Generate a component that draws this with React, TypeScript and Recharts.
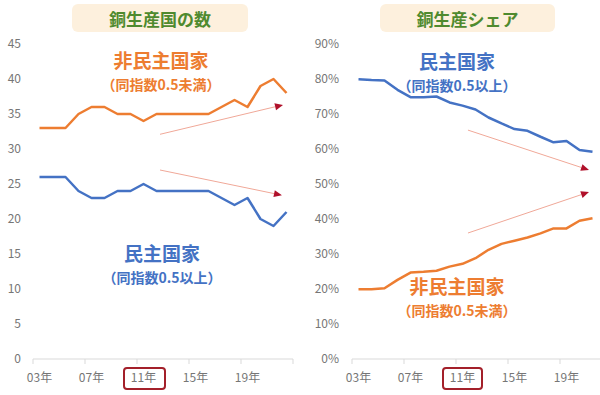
import React from 'react';
import { LineChart, Line, XAxis, YAxis, ReferenceLine } from 'recharts';

// ---------- data ----------
const countYears = [2003, 2004, 2005, 2006, 2007, 2008, 2009, 2010, 2011, 2012, 2013, 2014, 2015, 2016, 2017, 2018, 2019, 2020, 2021, 2022];
const nonDemCount = [33, 33, 33, 35, 36, 36, 35, 35, 34, 35, 35, 35, 35, 35, 36, 37, 36, 39, 40, 38];
const demCount = [26, 26, 26, 24, 23, 23, 24, 24, 25, 24, 24, 24, 24, 24, 23, 22, 23, 20, 19, 21];

const shareYears = [2003, 2004, 2005, 2006, 2007, 2008, 2009, 2010, 2011, 2012, 2013, 2014, 2015, 2016, 2017, 2018, 2019, 2020, 2021];
const demShare = [79.9, 79.7, 79.6, 76.9, 74.8, 74.8, 75.0, 73.3, 72.4, 71.3, 69.0, 67.3, 65.7, 65.2, 63.5, 61.9, 62.3, 59.7, 59.2];
const nonDemShare = [19.9, 19.9, 20.2, 22.6, 24.7, 24.9, 25.2, 26.4, 27.2, 28.8, 31.2, 32.9, 33.8, 34.7, 35.9, 37.3, 37.3, 39.5, 40.2];

const xTickYears = [2003, 2007, 2011, 2015, 2019];
const xTickLabels = ['03年', '07年', '11年', '15年', '19年'];
const countTicks = [0, 5, 10, 15, 20, 25, 30, 35, 40, 45];
const shareTicks = [0, 10, 20, 30, 40, 50, 60, 70, 80, 90];

// trend arrows (data units: [year, value])
const countArrows = [
  { from: [2012.27, 32.1], to: [2021.73, 36.3] },
  { from: [2012.27, 27.0], to: [2021.65, 23.4] },
];
const shareArrows = [
  { from: [2011.42, 65.4], to: [2020.73, 54.0] },
  { from: [2011.42, 36.0], to: [2020.73, 47.7] },
];

const countData = countYears.map((year, i) => ({ year, nonDem: nonDemCount[i], dem: demCount[i] }));
const shareData = shareYears.map((year, i) => ({ year, nonDem: nonDemShare[i], dem: demShare[i] }));
const boundaryTicks = [...xTickYears.map((y) => y - 0.5), 2022.5];

// ---------- styles ----------
const FONT = '"Noto Sans CJK JP", "Noto Sans", sans-serif';
const ORANGE = '#ED7D31';
const BLUE = '#4472C4';
const AXIS_TEXT = '#767676';
const HALF = 6.5;

const XTick = (props: any) => {
  const { x, y, payload } = props;
  const idx = xTickYears.indexOf(payload.value + 0.5);
  if (idx < 0) return <g />;
  return (
    <text x={x + HALF} y={y + 10} textAnchor="middle" dominantBaseline="central" fontSize={12} fill={AXIS_TEXT} fontFamily={FONT}>
      {xTickLabels[idx]}
    </text>
  );
};

const arrowShape = (p: any) => {
  const { x1, y1, x2, y2 } = p;
  const ang = Math.atan2(y2 - y1, x2 - x1);
  const L = 8;
  const W = 3.5;
  const bx = x2 - L * Math.cos(ang);
  const by = y2 - L * Math.sin(ang);
  const px = -Math.sin(ang) * W;
  const py = Math.cos(ang) * W;
  return (
    <g>
      <line x1={x1} y1={y1} x2={bx} y2={by} stroke="#F0A898" strokeWidth={1} />
      <polygon points={`${x2},${y2} ${bx + px},${by + py} ${bx - px},${by - py}`} fill="#B0102A" />
    </g>
  );
};

// two-line annotation: main line centred at y-2, sub line centred at y+22
const Note = ({ x, y, main, sub, color }: { x: number; y: number; main: string; sub: string; color: string }) => (
  <div
    style={{
      position: 'absolute',
      left: x,
      top: y - 12,
      transform: 'translateX(-50%)',
      whiteSpace: 'nowrap',
      fontFamily: FONT,
      fontWeight: 700,
      color,
      textAlign: 'center',
    }}
  >
    <span style={{ display: 'block', fontSize: 19, lineHeight: '20px', height: 20 }}>{main}</span>
    <span style={{ display: 'block', fontSize: 14, lineHeight: '20px', height: 20, marginTop: 4 }}>{sub}</span>
  </div>
);

const TitleBox = ({ left, width, text }: { left: number; width: number; text: string }) => (
  <div
    style={{
      position: 'absolute',
      left,
      top: 4,
      width,
      height: 28,
      background: '#FDF0DD',
      borderRadius: 6,
      display: 'flex',
      alignItems: 'center',
      justifyContent: 'center',
      fontFamily: FONT,
      fontWeight: 700,
      fontSize: 17,
      color: '#4F8A2E',
    }}
  >
    {text}
  </div>
);

const RedBox = ({ left, width }: { left: number; width: number }) => (
  <div
    style={{
      position: 'absolute',
      left,
      top: 367,
      width,
      height: 23,
      border: '2.5px solid #A3202A',
      borderRadius: 4,
      boxSizing: 'border-box',
    }}
  />
);

export default function App() {
  return (
    <div style={{ position: 'fixed', left: 0, top: 0, width: 600, height: 395, overflow: 'hidden', background: '#fff' }}>
      <div style={{ position: 'absolute', left: 0, top: 0 }}>
        <LineChart width={300} height={395} data={countData} margin={{ top: 44, right: 7, bottom: 0, left: 0 }}>
          <XAxis
            dataKey="year"
            type="number"
            domain={[2002.5, 2022.5]}
            ticks={boundaryTicks}
            interval={0}
            tick={XTick}
            tickSize={5}
            stroke="#D9D9D9"
            height={36}
          />
          <YAxis
            type="number"
            domain={[0, 45]}
            ticks={countTicks}
            interval={0}
            width={33}
            axisLine={false}
            tickLine={false}
            tickMargin={6}
            tick={{ fontSize: 12, fill: AXIS_TEXT, fontFamily: FONT }}
          />
          {countArrows.map((a, i) => (
            <ReferenceLine
              key={'ca' + i}
              segment={[{ x: a.from[0], y: a.from[1] }, { x: a.to[0], y: a.to[1] }]}
              shape={arrowShape}
              ifOverflow="visible"
            />
          ))}
          <Line type="linear" dataKey="nonDem" stroke={ORANGE} strokeWidth={2.5} dot={false} isAnimationActive={false} strokeLinejoin="round" />
          <Line type="linear" dataKey="dem" stroke={BLUE} strokeWidth={2.5} dot={false} isAnimationActive={false} strokeLinejoin="round" />
        </LineChart>
      </div>
      <div style={{ position: 'absolute', left: 300, top: 0 }}>
        <LineChart width={320} height={395} data={shareData} margin={{ top: 44, right: 8, bottom: 0, left: 0 }}>
          <XAxis
            dataKey="year"
            type="number"
            domain={[2002.5, 2022.5]}
            ticks={boundaryTicks}
            interval={0}
            tick={XTick}
            tickSize={5}
            stroke="#D9D9D9"
            height={36}
          />
          <YAxis
            type="number"
            domain={[0, 90]}
            ticks={shareTicks}
            interval={0}
            width={52}
            axisLine={false}
            tickLine={false}
            tickMargin={7}
            tickFormatter={(v: number) => `${v}%`}
            tick={{ fontSize: 12, fill: AXIS_TEXT, fontFamily: FONT }}
          />
          {shareArrows.map((a, i) => (
            <ReferenceLine
              key={'sa' + i}
              segment={[{ x: a.from[0], y: a.from[1] }, { x: a.to[0], y: a.to[1] }]}
              shape={arrowShape}
              ifOverflow="visible"
            />
          ))}
          <Line type="linear" dataKey="dem" stroke={BLUE} strokeWidth={2.5} dot={false} isAnimationActive={false} strokeLinejoin="round" />
          <Line type="linear" dataKey="nonDem" stroke={ORANGE} strokeWidth={2.5} dot={false} isAnimationActive={false} strokeLinejoin="round" />
        </LineChart>
      </div>

      <TitleBox left={72} width={176} text="銅生産国の数" />
      <TitleBox left={380} width={175} text="銅生産シェア" />

      <Note x={161} y={62} main="非民主国家" sub="（同指数0.5未満）" color={ORANGE} />
      <Note x={162} y={255} main="民主国家" sub="（同指数0.5以上）" color={BLUE} />
      <Note x={457} y={63} main="民主国家" sub="（同指数0.5以上）" color={BLUE} />
      <Note x={457} y={288} main="非民主国家" sub="（同指数0.5未満）" color={ORANGE} />

      <RedBox left={123} width={43} />
      <RedBox left={442} width={41} />
    </div>
  );
}
